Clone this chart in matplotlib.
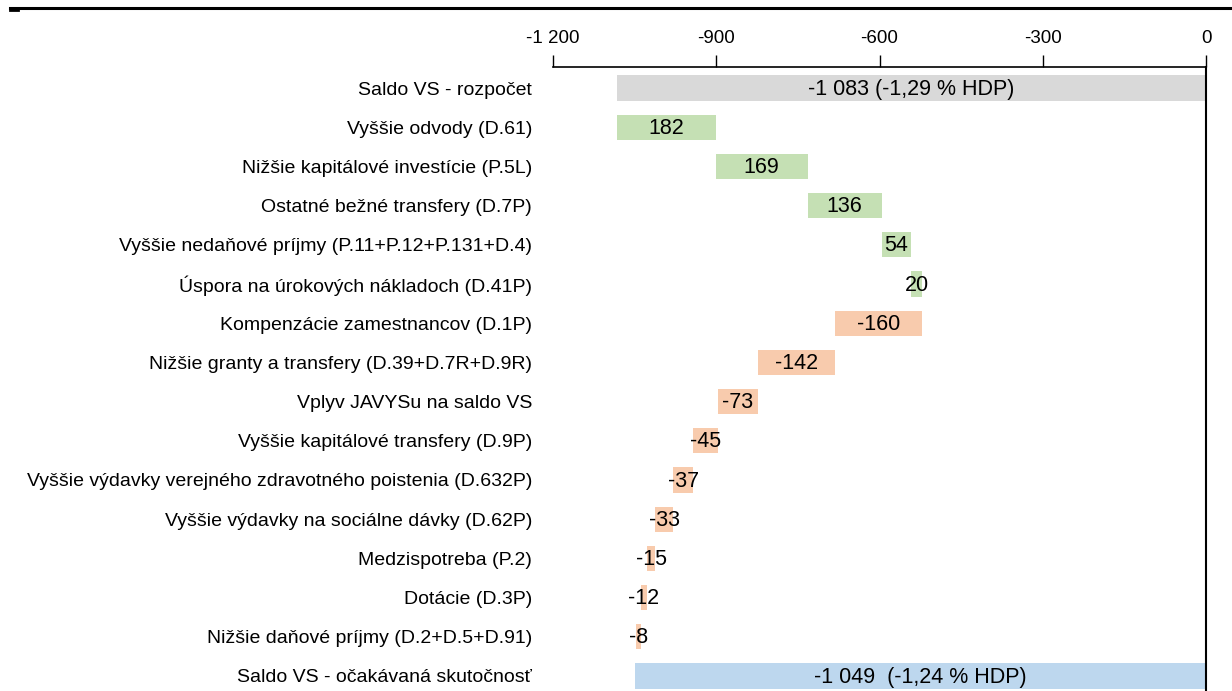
import numpy as np
import matplotlib.pyplot as plt
from matplotlib.lines import Line2D

# Data (mil. eur)
categories = [
    'Saldo VS - rozpočet',
    'Vyššie odvody (D.61)',
    'Nižšie kapitálové investície (P.5L)',
    'Ostatné bežné transfery (D.7P)',
    'Vyššie nedaňové príjmy (P.11+P.12+P.131+D.4)',
    'Úspora na úrokových nákladoch (D.41P)',
    'Kompenzácie zamestnancov (D.1P)',
    'Nižšie granty a transfery (D.39+D.7R+D.9R)',
    'Vplyv JAVYSu na saldo VS',
    'Vyššie kapitálové transfery (D.9P)',
    'Vyššie výdavky verejného zdravotného poistenia (D.632P)',
    'Vyššie výdavky na sociálne dávky (D.62P)',
    'Medzispotreba (P.2)',
    'Dotácie (D.3P)',
    'Nižšie daňové príjmy (D.2+D.5+D.91)',
    'Saldo VS - očakávaná skutočnosť',
]
start_value = -1083
changes = [182, 169, 136, 54, 20, -160, -142, -73, -45, -37, -33, -15, -12, -8]
end_value = -1049
start_label = '-1 083 (-1,29 % HDP)'
end_label = '-1 049  (-1,24 % HDP)'
xticks = [-1200, -900, -600, -300, 0]
xtick_labels = ['-1 200', '-900', '-600', '-300', '0']

plt.rcParams['font.family'] = ['Liberation Sans', 'DejaVu Sans']

c_total = '#D9D9D9'
c_up = '#C5E0B4'
c_down = '#F8CBAD'
c_end = '#BDD7EE'

fig = plt.figure(figsize=(12.32, 6.91), dpi=100)
ax = fig.add_axes([553 / 1232, 0, (1206 - 553) / 1232, 1 - 67 / 691])

n = len(categories)
y = np.arange(n)
h = 0.64

# waterfall
lefts = [start_value]
widths = [-start_value]
colors = [c_total]
level = start_value
for c in changes:
    if c >= 0:
        lefts.append(level)
        widths.append(c)
        colors.append(c_up)
    else:
        lefts.append(level + c)
        widths.append(-c)
        colors.append(c_down)
    level += c
lefts.append(end_value)
widths.append(-end_value)
colors.append(c_end)

ax.barh(y, widths, left=lefts, height=h, color=colors, edgecolor='none')

labels = [start_label] + [str(c) for c in changes] + [end_label]
for i in range(n):
    xc = lefts[i] + widths[i] / 2
    ax.text(xc, y[i] + 0.03, labels[i], ha='center', va='center', fontsize=15.5, color='black')

ax.set_xlim(-1200, 0)
ax.set_ylim(n - 1 + 0.383, -0.536)
ax.xaxis.tick_top()
ax.set_xticks(xticks)
ax.set_xticklabels(xtick_labels, fontsize=13.5)
ax.tick_params(axis='x', direction='out', length=8.5, width=1, pad=6, colors='black')
ax.tick_params(axis='y', length=0, pad=15)
ax.set_yticks(y)
ax.set_yticklabels(categories, fontsize=14)

for s in ['bottom', 'left']:
    ax.spines[s].set_visible(False)
ax.spines['top'].set_linewidth(1.2)
ax.spines['right'].set_linewidth(1.5)

# rule under the (cropped) header
fig.add_artist(Line2D([10 / 1232, 1], [1 - 8 / 691, 1 - 8 / 691], color='black', lw=2.2))
fig.add_artist(Line2D([10 / 1232, 18 / 1232], [1 - 10 / 691, 1 - 10 / 691], color='black', lw=2))

fig.savefig('out.png', dpi=100)
